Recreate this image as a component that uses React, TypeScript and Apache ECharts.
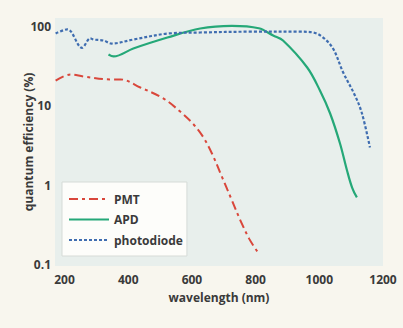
import React, { useEffect, useRef } from "react";
import * as echarts from "echarts";

// wavelength (nm) and quantum efficiency (%)
const pmtWavelength = [172, 219, 260, 344, 376, 438, 510, 564, 604, 636, 664, 695, 725, 752, 780, 805];
const pmtEfficiency = [20.8, 24.8, 23.4, 21.5, 21.5, 17.0, 12.4, 8.4, 5.9, 4.0, 2.45, 1.25, 0.65, 0.36, 0.21, 0.146];

const apdWavelength = [338, 354, 416, 523, 626, 725, 810, 855, 886, 962, 1002, 1034, 1065, 1087, 1103, 1118];
const apdEfficiency = [44.4, 41.9, 52.8, 72.6, 94.4, 102, 95, 77, 66.6, 30.4, 15.6, 8.0, 3.35, 1.53, 0.93, 0.7];

const pdWavelength = [172, 209, 255, 281, 291, 322, 348, 416, 526, 626, 783, 940, 981, 1012, 1043, 1075, 1112, 1134, 1159];
const pdEfficiency = [81.6, 92, 53.8, 71, 68.5, 66.6, 61, 68.5, 81.6, 84, 86, 86, 84, 72.6, 52.8, 26.3, 13.5, 8.0, 2.98];

const seriesNames = ["PMT", "APD", "photodiode"];
const xTickLabels = [200, 400, 600, 800, 1000, 1200];
const yTickLabels = [0.1, 1, 10, 100];

const zip = (xs: number[], ys: number[]) => xs.map((x, i) => [x, ys[i]]);

const FONT = "'Open Sans', 'Noto Sans', sans-serif";
const TEXT = "#3a3a3a";

export default function App() {
  const ref = useRef<HTMLDivElement>(null);
  useEffect(() => {
    if (!ref.current) return;
    const chart = echarts.init(ref.current, undefined, { renderer: "svg" });
    chart.setOption({
      animation: false,
      backgroundColor: "#f8f6ee",
      textStyle: { fontFamily: FONT },
      grid: {
        left: 55,
        right: 20,
        top: 18,
        bottom: 62,
        show: true,
        backgroundColor: "#e8efec",
        borderWidth: 0,
      },
      legend: {
        orient: "vertical",
        left: 62,
        top: 182,
        padding: [11, 4, 10, 6],
        itemGap: 8.5,
        itemWidth: 40,
        itemHeight: 14,
        backgroundColor: "#fdfdfa",
        borderColor: "#d6dbd7",
        borderWidth: 1,
        itemStyle: { opacity: 0 },
        data: seriesNames,
        textStyle: { fontFamily: FONT, fontWeight: "bold", fontSize: 12, color: TEXT },
      },
      xAxis: {
        type: "value",
        min: 170,
        max: 1200,
        splitNumber: 5,
        name: "wavelength (nm)",
        nameLocation: "middle",
        nameGap: 25,
        nameMoveOverlap: false,
        nameTextStyle: { fontFamily: FONT, fontWeight: "bold", fontSize: 12, color: TEXT },
        axisLine: { show: false },
        axisTick: { show: false },
        splitLine: { show: false },
        axisLabel: {
          margin: 7,
          fontFamily: FONT,
          fontWeight: "bold",
          fontSize: 12,
          color: TEXT,
          formatter: (v: number) => (xTickLabels.includes(Math.round(v)) && Math.abs(v - Math.round(v)) < 1e-6 ? String(Math.round(v)) : ""),
        },
      },
      yAxis: {
        type: "log",
        logBase: 10,
        min: 0.0955,
        max: 128,
        name: "quantum efficiency (%)",
        nameLocation: "middle",
        nameGap: 21,
        nameMoveOverlap: false,
        nameTextStyle: { fontFamily: FONT, fontWeight: "bold", fontSize: 12, color: TEXT },
        axisLine: { show: false },
        axisTick: { show: false },
        splitLine: { show: false },
        axisLabel: {
          margin: 4,
          fontFamily: FONT,
          fontWeight: "bold",
          fontSize: 12,
          color: TEXT,
          formatter: (v: number) => {
            const hit = yTickLabels.find((t) => Math.abs(Math.log10(v) - Math.log10(t)) < 1e-6);
            return hit === undefined ? "" : String(hit);
          },
        },
      },
      series: [
        {
          name: seriesNames[0],
          type: "line",
          data: zip(pmtWavelength, pmtEfficiency),
          smooth: 0.35,
          symbol: "none",
          color: "#d9473b",
          lineStyle: { width: 2, type: [9, 4, 3, 4], color: "#d9473b" },
        },
        {
          name: seriesNames[1],
          type: "line",
          data: zip(apdWavelength, apdEfficiency),
          smooth: 0.35,
          symbol: "none",
          color: "#25a878",
          lineStyle: { width: 2.2, color: "#25a878" },
        },
        {
          name: seriesNames[2],
          type: "line",
          data: zip(pdWavelength, pdEfficiency),
          smooth: 0.35,
          symbol: "none",
          color: "#3f6db0",
          lineStyle: { width: 2.2, type: [3, 2], color: "#3f6db0" },
        },
      ],
    });
    return () => chart.dispose();
  }, []);
  return <div ref={ref} style={{ position: "fixed", left: 0, top: 0, width: 403, height: 328 }} />;
}
